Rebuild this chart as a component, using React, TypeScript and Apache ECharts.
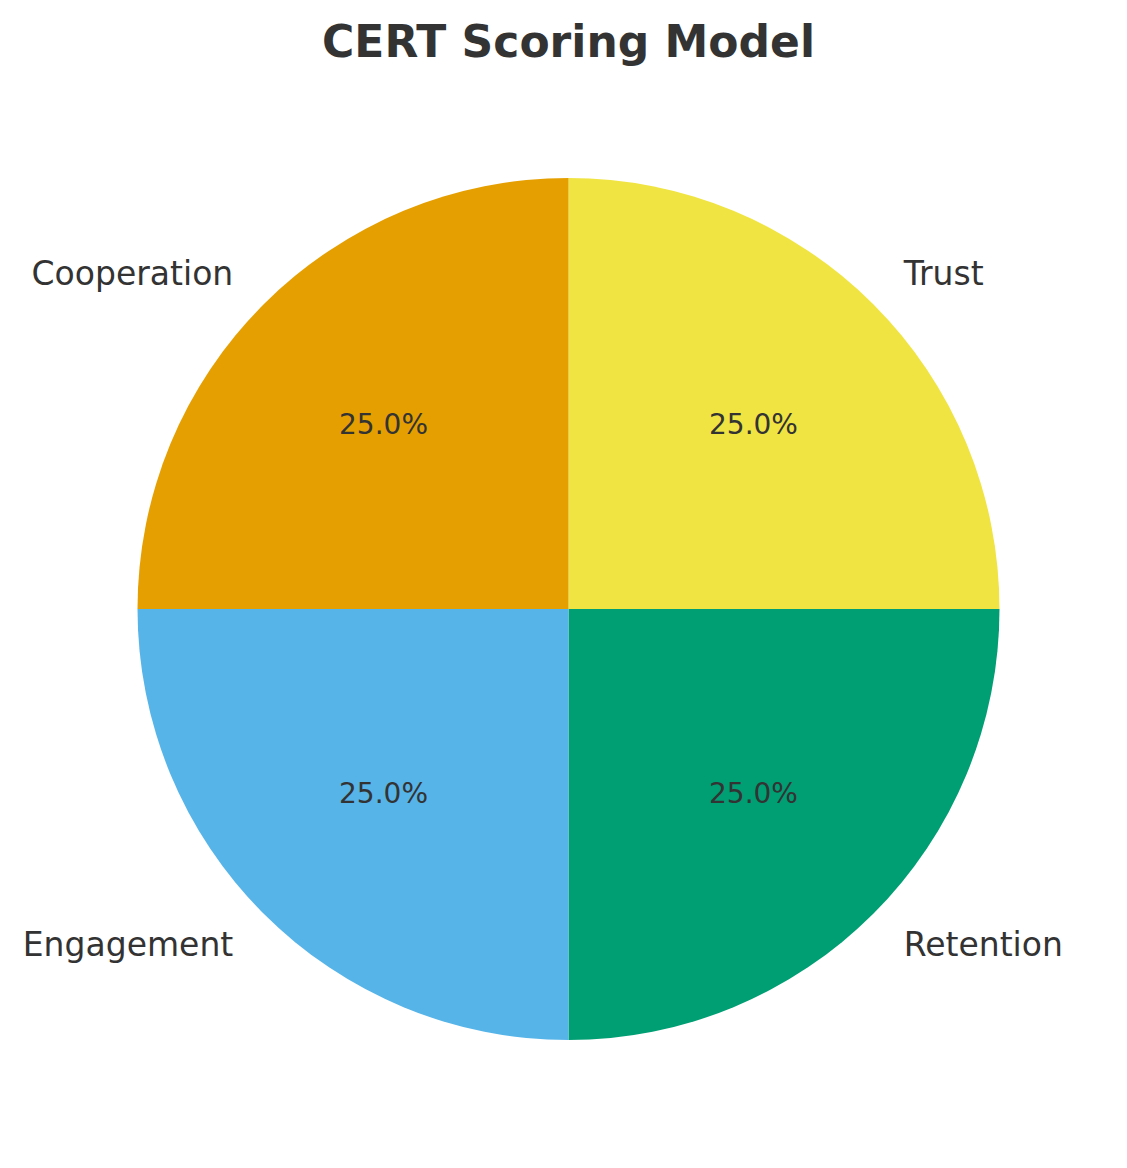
import React, { useEffect, useRef } from "react";
import * as echarts from "echarts";

const categories = ["Trust", "Retention", "Engagement", "Cooperation"];
const values = [25, 25, 25, 25];
const colors = ["#F0E442", "#009E73", "#56B4E9", "#E69F00"];

const SHIFT = 4.5;
const CX = 568 - SHIFT;
const CY = 609;
const R = 431;

export default function App() {
  const ref = useRef<HTMLDivElement>(null);
  useEffect(() => {
    if (!ref.current) return;
    const chart = echarts.init(ref.current, null, { renderer: "svg" });
    const total = values.reduce((a, b) => a + b, 0);
    const font = "DejaVu Sans";
    chart.setOption({
      animation: false,
      backgroundColor: "#ffffff",
      title: {
        text: "CERT Scoring Model",
        left: "center",
        top: 14,
        textStyle: { fontFamily: font, fontSize: 44, fontWeight: "bold", color: "#333333" },
      },
      series: [
        {
          type: "pie",
          center: [CX, CY],
          radius: [0, R],
          startAngle: 90,
          clockwise: true,
          silent: true,
          avoidLabelOverlap: false,
          label: {
            show: true,
            position: "outside",
            distanceToLabelLine: 0,
            fontFamily: font,
            fontSize: 33,
            color: "#333333",
            formatter: "{b}",
          },
          labelLine: { show: false, length: R * 0.1, length2: 0 },
          itemStyle: { borderWidth: 0 },
          data: categories.map((c, i) => ({
            name: c,
            value: values[i],
            itemStyle: { color: colors[i] },
          })),
        },
        {
          type: "pie",
          center: [CX, CY],
          radius: [0, R * 1.2],
          startAngle: 90,
          clockwise: true,
          silent: true,
          z: 5,
          itemStyle: { color: "rgba(0,0,0,0)", borderWidth: 0 },
          label: {
            show: true,
            position: "inside",
            fontFamily: font,
            fontSize: 28,
            color: "#333333",
            formatter: (p: any) => ((p.value / total) * 100).toFixed(1) + "%",
          },
          labelLine: { show: false },
          data: categories.map((c, i) => ({ name: c, value: values[i] })),
        },
      ],
    });
    return () => chart.dispose();
  }, []);
  return (
    <div
      ref={ref}
      style={{ position: "fixed", left: SHIFT, top: 0, width: 1127, height: 1168 }}
    />
  );
}
